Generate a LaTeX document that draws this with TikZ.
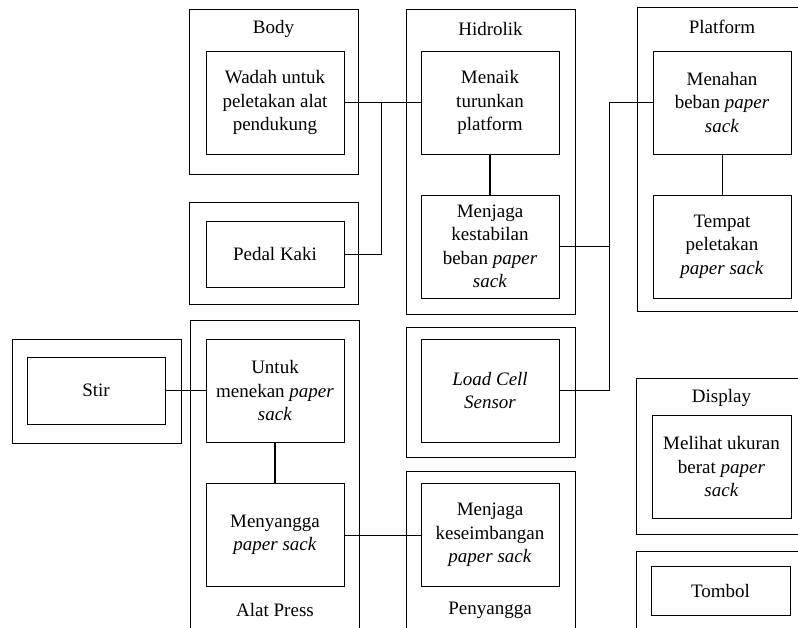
\documentclass[tikz,border=0pt]{standalone}
\usepackage{fontspec}
\setmainfont{LiberationSerif}[Extension=.ttf,UprightFont=*-Regular,ItalicFont=*-Italic,BoldFont=*-Bold,BoldItalicFont=*-BoldItalic]
\begin{document}
\begin{tikzpicture}[x=1pt,y=-1pt,
  every node/.style={font=\fontsize{19}{23.5}\selectfont},
  frame/.style={draw,line width=1pt,rectangle,inner sep=0pt},
  box/.style={draw,line width=1pt,rectangle,inner sep=0pt,
    minimum width=138pt,minimum height=103pt,align=center},
  lbl/.style={inner sep=0pt,align=center},
  link/.style={line width=1pt},
  heavy/.style={line width=2.8pt}]
\useasboundingbox (0,0) rectangle (798,627);
\clip (0,0) rectangle (798,627);

% outer frames of the subsystems
\node[frame,minimum width=169pt,minimum height=165pt] (bodyframe) at (273.5,91.5) {};
\node[frame,minimum width=169pt,minimum height=102pt] (pedalframe) at (273.5,253) {};
\node[frame,minimum width=169pt,minimum height=305pt] (hidrolikframe) at (490.5,161.5) {};
\node[frame,minimum width=183pt,minimum height=304pt] (platformframe) at (728.5,159) {};
\node[frame,minimum width=169pt,minimum height=104pt] (stirframe) at (96.5,391) {};
\node[frame,minimum width=169pt,minimum height=320pt] (pressframe) at (274.5,480) {};
\node[frame,minimum width=169pt,minimum height=130pt] (loadframe) at (490.5,392) {};
\node[frame,minimum width=169pt,minimum height=169pt] (penyanggaframe) at (490.5,555.5) {};
\node[frame,minimum width=184pt,minimum height=156pt] (displayframe) at (728,456) {};
\node[frame,minimum width=184pt,minimum height=89pt] (tombolframe) at (728,595.5) {};

% subsystem titles
\node[lbl] (bodylbl) at (273.5,29) {Body};
\node[lbl] (hidroliklbl) at (490.5,29) {Hidrolik};
\node[lbl] (platformlbl) at (722,27) {Platform};
\node[lbl] (displaylbl) at (721.5,398) {Display};
\node[lbl] (presslbl) at (275,610) {Alat Press};
\node[lbl] (penyanggalbl) at (490,610) {Penyangga};

% function boxes
\node[box] (wadah) at (275,102.5) {Wadah untuk\\peletakan alat\\pendukung};
\node[box] (menaik) at (490,102.5) {Menaik\\turunkan\\platform};
\node[box] (kestabilan) at (490,246.5) {Menjaga\\kestabilan\\beban \textit{paper}\\\textit{sack}};
\node[box] (menahan) at (722,102.5) {Menahan\\beban \textit{paper}\\\textit{sack}};
\node[box] (tempat) at (722,246.5) {Tempat\\peletakan\\\textit{paper sack}};
\node[box,minimum height=66pt] (pedal) at (275,254) {Pedal Kaki};
\node[box] (untuk) at (275,390.5) {Untuk\\menekan \textit{paper}\\\textit{sack}};
\node[box] (menyangga) at (275,535) {Menyangga\\\textit{paper sack}};
\node[box,minimum height=67pt] (stir) at (96,390.5) {Stir};
\node[box] (loadcell) at (490,390.5) {\textit{Load Cell}\\\textit{Sensor}};
\node[box] (keseimbangan) at (490,535) {Menjaga\\keseimbangan\\\textit{paper sack}};
\node[box,minimum width=139pt] (melihat) at (721.5,466.5) {Melihat ukuran\\berat \textit{paper}\\\textit{sack}};
\node[box,minimum width=139pt,minimum height=49pt] (tombol) at (720.5,590.5) {Tombol};

% junction points of the connectors
\coordinate (bodyjoin) at (381.7,102.5);
\coordinate (busbottom) at (609,390.5);

% connectors
\draw[link] (wadah.east) -- (menaik.west);
\draw[link] (pedal.east) -| (bodyjoin);
\draw[heavy] (menaik.south) -- (kestabilan.north);
\draw[link] (menahan.west) -| (busbottom) -- (loadcell.east);
\draw[link] (kestabilan.east) -- (kestabilan.east -| busbottom);
\draw[link] (menahan.south) -- (tempat.north);
\draw[link] (stir.east) -- (untuk.west);
\draw[heavy] (untuk.south) -- (menyangga.north);
\draw[link] (menyangga.east) -- (keseimbangan.west);
\end{tikzpicture}
\end{document}
